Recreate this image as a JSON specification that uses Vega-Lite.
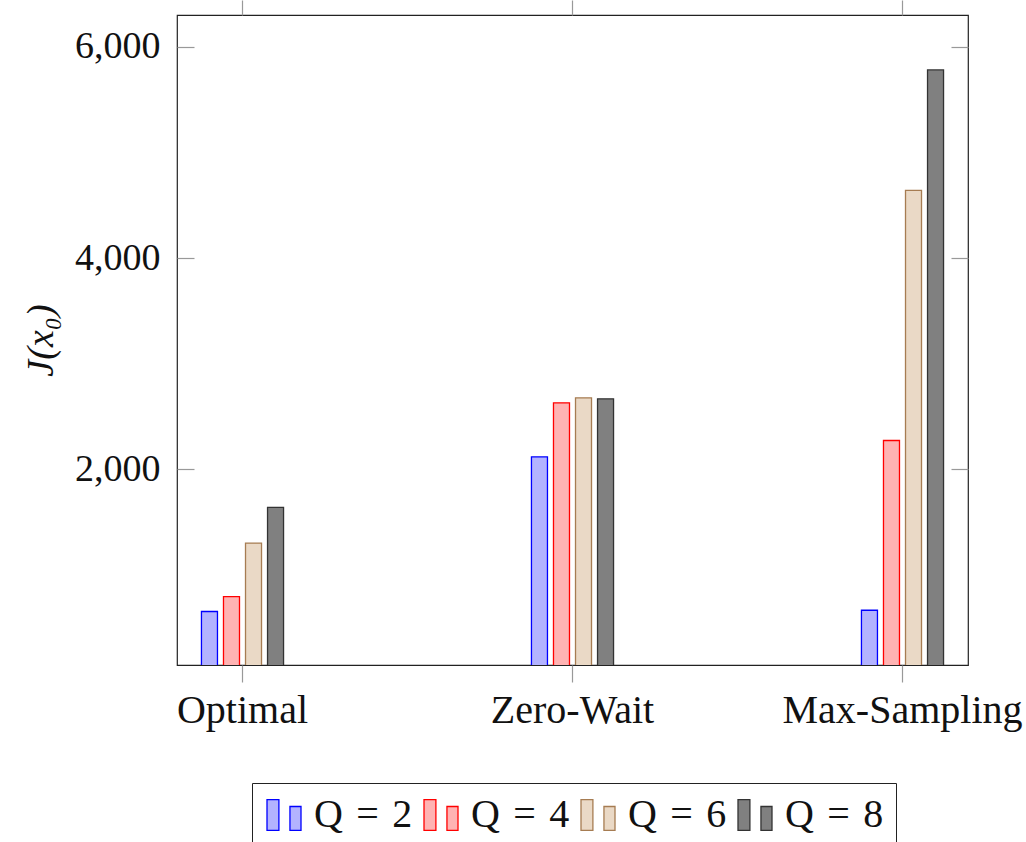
{
  "$schema": "https://vega.github.io/schema/vega-lite/v6.json",
  "width": 791,
  "height": 650,
  "autosize": {"type": "none"},
  "padding": {"left": 177, "top": 15, "right": 58, "bottom": 177},
  "background": "white",
  "config": {
    "view": {"stroke": "#222", "strokeWidth": 1.2},
    "font": "Liberation Serif",
    "axis": {"grid": false, "domain": false, "tickColor": "#999", "tickWidth": 1.2, "labelFont": "Liberation Serif", "labelColor": "#111", "titleFont": "Liberation Serif", "labelLimit": 500}
  },
  "data": {
    "values": [
      {"method": "Optimal", "Q": "2", "J": 656},
      {"method": "Optimal", "Q": "4", "J": 797},
      {"method": "Optimal", "Q": "6", "J": 1304},
      {"method": "Optimal", "Q": "8", "J": 1641},
      {"method": "Zero-Wait", "Q": "2", "J": 2120},
      {"method": "Zero-Wait", "Q": "4", "J": 2631},
      {"method": "Zero-Wait", "Q": "6", "J": 2678},
      {"method": "Zero-Wait", "Q": "8", "J": 2668},
      {"method": "Max-Sampling", "Q": "2", "J": 668},
      {"method": "Max-Sampling", "Q": "4", "J": 2274},
      {"method": "Max-Sampling", "Q": "6", "J": 4640},
      {"method": "Max-Sampling", "Q": "8", "J": 5780}
    ]
  },
  "layer": [
    {
      "mark": {"type": "bar", "clip": true, "strokeWidth": 1.3},
      "encoding": {
        "x": {
          "field": "method",
          "type": "nominal",
          "sort": ["Optimal", "Zero-Wait", "Max-Sampling"],
          "scale": {"paddingInner": 0.733, "paddingOuter": 0.065},
          "axis": {"orient": "bottom", "title": null, "labelAngle": 0, "tickSize": 17, "labelFontSize": 40, "labelPadding": 8, "labelBaseline": "top"}
        },
        "xOffset": {
          "field": "Q",
          "type": "nominal",
          "sort": ["2", "4", "6", "8"],
          "scale": {"paddingInner": 0.273, "paddingOuter": 0.1365}
        },
        "y": {
          "field": "J",
          "type": "quantitative",
          "scale": {"domain": [150, 6300], "nice": false, "zero": false},
          "axis": {"orient": "left", "values": [2000, 4000, 6000], "format": ",d", "tickSize": -17, "labelPadding": 34, "labelFontSize": 38, "title": "J(x₀)", "titleFontSize": 38, "titleFontStyle": "italic", "titleFontWeight": "normal", "titlePadding": 14, "titleColor": "#111"}
        },
        "fill": {
          "field": "Q",
          "type": "nominal",
          "sort": ["2", "4", "6", "8"],
          "scale": {"domain": ["2", "4", "6", "8"], "range": ["#b3b3ff", "#ffb3b3", "#ead9c6", "#808080"]},
          "legend": {
            "orient": "none",
            "legendX": 75,
            "legendY": 768,
            "direction": "horizontal",
            "columns": 4,
            "title": null,
            "labelExpr": "'Q\u2004=\u2004' + datum.label",
            "labelFontSize": 40,
            "labelFont": "Liberation Serif",
            "labelColor": "#111",
            "labelOffset": 10,
            "columnPadding": 8,
            "symbolType": "M-1,-0.91H-0.3V0.91H-1Z M0.35,-0.5H1V0.91H0.35Z",
            "symbolSize": 1156,
            "symbolStrokeWidth": 1.3,
            "symbolOpacity": 1,
            "strokeColor": "#222",
            "padding": 12
          }
        },
        "stroke": {
          "field": "Q",
          "type": "nominal",
          "sort": ["2", "4", "6", "8"],
          "scale": {"domain": ["2", "4", "6", "8"], "range": ["#0000ff", "#ff0000", "#a67c52", "#333333"]},
          "legend": {
            "orient": "none",
            "legendX": 75,
            "legendY": 768,
            "direction": "horizontal",
            "columns": 4,
            "title": null,
            "labelExpr": "'Q\u2004=\u2004' + datum.label",
            "labelFontSize": 40,
            "labelFont": "Liberation Serif",
            "labelColor": "#111",
            "labelOffset": 10,
            "columnPadding": 8,
            "symbolType": "M-1,-0.91H-0.3V0.91H-1Z M0.35,-0.5H1V0.91H0.35Z",
            "symbolSize": 1156,
            "symbolStrokeWidth": 1.3,
            "symbolOpacity": 1,
            "strokeColor": "#222",
            "padding": 12
          }
        }
      }
    },
    {
      "mark": {"type": "bar", "clip": true, "opacity": 0},
      "encoding": {
        "x": {
          "field": "method",
          "type": "nominal",
          "sort": ["Optimal", "Zero-Wait", "Max-Sampling"],
          "axis": {"orient": "top", "title": null, "labels": false, "tickSize": 15}
        },
        "xOffset": {
          "field": "Q",
          "type": "nominal",
          "sort": ["2", "4", "6", "8"]
        },
        "y": {
          "field": "J",
          "type": "quantitative",
          "axis": {"orient": "right", "values": [2000, 4000, 6000], "labels": false, "tickSize": -17, "title": null}
        }
      }
    }
  ],
  "resolve": {"axis": {"x": "independent", "y": "independent"}}
}
